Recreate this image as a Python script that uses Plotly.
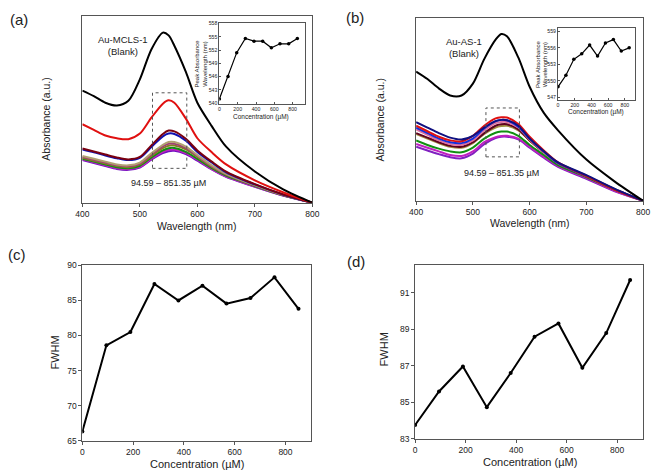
import plotly.graph_objects as go

W, H = 658, 476
FONT = "Liberation Sans, Arial, sans-serif"
TXT = "#222222"
FRAME = "#555555"

# ---------------- data ----------------
wavelength = [400, 420, 440, 460, 480, 500, 520, 540, 550, 560, 580, 600, 625, 650, 700, 750, 800]

# Panel (a) Au-MCLS-1 spectra (normalised absorbance, a.u.)
a_blank   = [0.60, 0.57, 0.535, 0.52, 0.545, 0.66, 0.82, 0.91, 0.895, 0.84, 0.70, 0.535, 0.41, 0.30, 0.167, 0.07, 0.0]
a_red     = [0.42, 0.39, 0.36, 0.345, 0.34, 0.37, 0.455, 0.53, 0.548, 0.535, 0.45, 0.345, 0.27, 0.205, 0.12, 0.055, 0.0]
a_maroon  = [0.29, 0.274, 0.258, 0.242, 0.232, 0.245, 0.307, 0.368, 0.386, 0.382, 0.342, 0.28, 0.22, 0.167, 0.10, 0.044, 0.0]
a_blue    = [0.285, 0.27, 0.253, 0.238, 0.228, 0.24, 0.298, 0.355, 0.37, 0.368, 0.332, 0.272, 0.215, 0.163, 0.098, 0.043, 0.0]
a_khaki   = [0.25, 0.235, 0.22, 0.205, 0.20, 0.215, 0.265, 0.31, 0.325, 0.325, 0.30, 0.255, 0.20, 0.155, 0.095, 0.042, 0.0]
a_pink    = [0.245, 0.23, 0.215, 0.20, 0.195, 0.21, 0.258, 0.302, 0.316, 0.316, 0.292, 0.25, 0.195, 0.152, 0.093, 0.041, 0.0]
a_olive   = [0.24, 0.225, 0.21, 0.196, 0.19, 0.205, 0.25, 0.292, 0.305, 0.306, 0.285, 0.245, 0.192, 0.15, 0.092, 0.04, 0.0]
a_green   = [0.235, 0.22, 0.205, 0.19, 0.185, 0.198, 0.242, 0.28, 0.292, 0.293, 0.272, 0.235, 0.185, 0.145, 0.09, 0.04, 0.0]
a_magenta = [0.232, 0.216, 0.20, 0.185, 0.18, 0.192, 0.235, 0.272, 0.283, 0.285, 0.266, 0.23, 0.18, 0.14, 0.087, 0.038, 0.0]
a_purple  = [0.228, 0.212, 0.196, 0.181, 0.176, 0.188, 0.23, 0.265, 0.276, 0.278, 0.26, 0.225, 0.178, 0.138, 0.085, 0.037, 0.0]

# Panel (b) Au-AS-1 spectra
b_blank   = [0.706, 0.665, 0.614, 0.575, 0.575, 0.64, 0.774, 0.88, 0.911, 0.899, 0.783, 0.623, 0.48, 0.385, 0.225, 0.105, 0.0]
b_navy    = [0.43, 0.40, 0.37, 0.345, 0.335, 0.355, 0.40, 0.435, 0.442, 0.44, 0.41, 0.34, 0.27, 0.21, 0.14, 0.065, 0.0]
b_red     = [0.41, 0.38, 0.35, 0.33, 0.325, 0.355, 0.41, 0.45, 0.456, 0.455, 0.42, 0.35, 0.275, 0.21, 0.135, 0.06, 0.0]
b_blue    = [0.40, 0.37, 0.34, 0.32, 0.315, 0.34, 0.395, 0.435, 0.442, 0.44, 0.405, 0.34, 0.27, 0.205, 0.135, 0.062, 0.0]
b_pink    = [0.39, 0.36, 0.33, 0.31, 0.305, 0.33, 0.385, 0.425, 0.431, 0.43, 0.40, 0.335, 0.265, 0.205, 0.135, 0.062, 0.0]
b_maroon  = [0.37, 0.345, 0.32, 0.30, 0.295, 0.32, 0.37, 0.41, 0.418, 0.418, 0.39, 0.33, 0.265, 0.205, 0.135, 0.062, 0.0]
b_olive   = [0.365, 0.34, 0.315, 0.295, 0.29, 0.315, 0.365, 0.40, 0.408, 0.41, 0.385, 0.33, 0.265, 0.205, 0.138, 0.065, 0.0]
b_green   = [0.33, 0.305, 0.285, 0.27, 0.265, 0.29, 0.34, 0.372, 0.378, 0.378, 0.355, 0.305, 0.25, 0.195, 0.13, 0.06, 0.0]
b_magenta = [0.31, 0.29, 0.27, 0.25, 0.245, 0.27, 0.32, 0.348, 0.354, 0.355, 0.34, 0.295, 0.24, 0.19, 0.125, 0.055, 0.0]
b_purple  = [0.295, 0.275, 0.255, 0.238, 0.232, 0.258, 0.31, 0.343, 0.35, 0.35, 0.335, 0.29, 0.235, 0.185, 0.12, 0.052, 0.0]

# Concentrations (µM)
concentration = [0, 94.59, 189.19, 283.78, 378.38, 472.97, 567.57, 662.16, 756.76, 851.35]
peak_wl_a = [540.9, 546.0, 551.4, 554.6, 554.0, 554.0, 552.5, 553.4, 553.4, 554.6]
peak_wl_b = [548.9, 551.0, 553.9, 554.9, 556.5, 554.5, 556.9, 557.5, 555.4, 556.0]
fwhm_a = [66.3, 78.6, 80.5, 87.35, 85.0, 87.1, 84.55, 85.35, 88.3, 83.8]
fwhm_b = [83.75, 85.59, 86.96, 84.73, 86.6, 88.59, 89.32, 86.89, 88.79, 91.7]

spec_a = [("Blank", a_blank, "#000000"), ("94.59", a_red, "#e01010"), ("189.19", a_maroon, "#7a0010"),
          ("283.78", a_blue, "#1010b0"), ("378.38", a_khaki, "#b0a070"), ("472.97", a_pink, "#a04070"),
          ("567.57", a_olive, "#808020"), ("662.16", a_green, "#109010"), ("756.76", a_magenta, "#c020c0"),
          ("851.35", a_purple, "#7010c0")]
spec_b = [("Blank", b_blank, "#000000"), ("94.59", b_navy, "#101080"), ("189.19", b_red, "#e01010"),
          ("283.78", b_blue, "#1030e0"), ("378.38", b_pink, "#e070a0"), ("472.97", b_maroon, "#600020"),
          ("567.57", b_olive, "#a09040"), ("662.16", b_green, "#109010"), ("756.76", b_magenta, "#c020c0"),
          ("851.35", b_purple, "#8020c0")]

# ---------------- helpers ----------------
def px(x):
    return x / W

def py(y):
    return 1 - y / H

fig = go.Figure()

for name, ys, col in spec_a[::-1]:
    fig.add_trace(go.Scatter(x=wavelength, y=ys, mode="lines", line=dict(color=col, width=2, shape="spline", smoothing=0.8),
                             xaxis="x", yaxis="y", showlegend=False, name=name))
for name, ys, col in spec_b[::-1]:
    fig.add_trace(go.Scatter(x=wavelength, y=ys, mode="lines", line=dict(color=col, width=2, shape="spline", smoothing=0.8),
                             xaxis="x2", yaxis="y2", showlegend=False, name=name))

fig.add_trace(go.Scatter(x=concentration, y=fwhm_a, mode="lines+markers", line=dict(color="#000", width=2),
                         marker=dict(size=4, color="#000"), xaxis="x3", yaxis="y3", showlegend=False))
fig.add_trace(go.Scatter(x=concentration, y=fwhm_b, mode="lines+markers", line=dict(color="#000", width=2),
                         marker=dict(size=4, color="#000"), xaxis="x4", yaxis="y4", showlegend=False))
fig.add_trace(go.Scatter(x=concentration, y=peak_wl_a, mode="lines+markers", line=dict(color="#000", width=1.2),
                         marker=dict(size=3.5, color="#000"), xaxis="x5", yaxis="y5", showlegend=False))
fig.add_trace(go.Scatter(x=concentration, y=peak_wl_b, mode="lines+markers", line=dict(color="#000", width=1.2),
                         marker=dict(size=3.5, color="#000"), xaxis="x6", yaxis="y6", showlegend=False))

tick_font = dict(family=FONT, size=8.5, color=TXT)
small_font = dict(family=FONT, size=5.2, color=TXT)

def ax(domain, rng, anchor, tickvals=None, showlabels=True, font=tick_font, ticklen=3, ticks="outside"):
    d = dict(domain=domain, range=rng, anchor=anchor, showline=True, linecolor=FRAME, linewidth=1,
             mirror=True, showgrid=False, zeroline=False, ticks=ticks, ticklen=ticklen,
             tickcolor=FRAME, tickfont=font, showticklabels=showlabels)
    if tickvals is not None:
        d["tickmode"] = "array"
        d["tickvals"] = tickvals
    return d

fig.update_layout(
    width=W, height=H, margin=dict(l=0, r=0, t=0, b=0),
    paper_bgcolor="white", plot_bgcolor="white",
    font=dict(family=FONT, color=TXT),
    xaxis=ax([px(77), px(312)], [400, 800], "y", [400, 500, 600, 700, 800]),
    yaxis=ax([py(202), py(11)], [0, 1], "x", [], False),
    xaxis2=ax([px(418), px(650)], [400, 800], "y2", [400, 500, 600, 700, 800]),
    yaxis2=ax([py(200), py(13)], [0, 1], "x2", [], False),
    xaxis3=ax([px(77), px(311)], [0, 902], "y3", [0, 200, 400, 600, 800]),
    yaxis3=ax([py(445), py(266)], [65, 90], "x3", [65, 70, 75, 80, 85, 90]),
    xaxis4=ax([px(417), px(650)], [0, 903], "y4", [0, 200, 400, 600, 800]),
    yaxis4=ax([py(443), py(266)], [83, 92.5], "x4", [83, 85, 87, 89, 91]),
    xaxis5=ax([px(217), px(304)], [0, 930], "y5", [0, 200, 400, 600, 800], font=small_font, ticklen=2, ticks="inside"),
    yaxis5=ax([py(101), py(18)], [539.8, 558.2], "x5", [540, 543, 546, 549, 552, 555, 558], font=small_font, ticklen=2, ticks="inside"),
    xaxis6=ax([px(563), px(642)], [0, 925], "y6", [0, 200, 400, 600, 800], font=small_font, ticklen=2, ticks="inside"),
    yaxis6=ax([py(97), py(23)], [546.5, 559.7], "x6", [547, 550, 553, 556, 559], font=small_font, ticklen=2, ticks="inside"),
)

# dotted boxes
fig.add_shape(type="rect", xref="x", yref="y", x0=522, x1=581.6, y0=0.184, y1=0.588,
              line=dict(color="#555", width=1, dash="dot"))
fig.add_shape(type="rect", xref="x2", yref="y2", x0=523, x1=582, y0=0.24, y1=0.507,
              line=dict(color="#555", width=1, dash="dot"))

def ann(text, x, y, size, angle=0, xref="paper", yref="paper"):
    fig.add_annotation(text=text, x=x, y=y, xref=xref, yref=yref, showarrow=False, textangle=angle,
                       font=dict(family=FONT, size=size, color=TXT), xanchor="center", yanchor="middle")

# panel labels
ann("(a)", px(12), py(15), 15)
ann("(b)", px(356), py(13), 15)
ann("(c)", px(10), py(255), 15)
ann("(d)", px(357), py(262), 15)

# axis titles
ann("Absorbance (a.u.)", px(39), py(117), 10.5, -90)
ann("Absorbance (a.u.)", px(381), py(117), 10.5, -90)
ann("Wavelength (nm)", px(194), py(226), 10.5)
ann("Wavelength (nm)", px(534), py(223), 10.5)
ann("FWHM", px(49), py(355), 11, -90)
ann("FWHM", px(385), py(352), 11, -90)
ann("Concentration (µM)", px(194), py(469), 11)
ann("Concentration (µM)", px(534), py(467), 11)

# inset titles
ann("Peak Absorbance<br>Wavelength (nm)", px(198), py(60), 6, -90)
ann("Concentration (µM)", px(260), py(114), 6.5)
ann("Peak Absorbance<br>Wavelength (nm)", px(546), py(60), 6, -90)
ann("Concentration (µM)", px(602), py(109), 6.5)

# curve labels
ann("Au-MCLS-1<br>(Blank)", 471, 0.842, 9.5, xref="x", yref="y")
ann("94.59 – 851.35 µM", 550, 0.105, 9, xref="x", yref="y")
ann("Au-AS-1<br>(Blank)", 484, 0.836, 9.5, xref="x2", yref="y2")
ann("94.59 – 851.35 µM", 550, 0.151, 9, xref="x2", yref="y2")

fig.write_html("out.html", config={"displayModeBar": False},
               post_script="document.body.style.margin='0px';document.body.style.padding='0px';")
